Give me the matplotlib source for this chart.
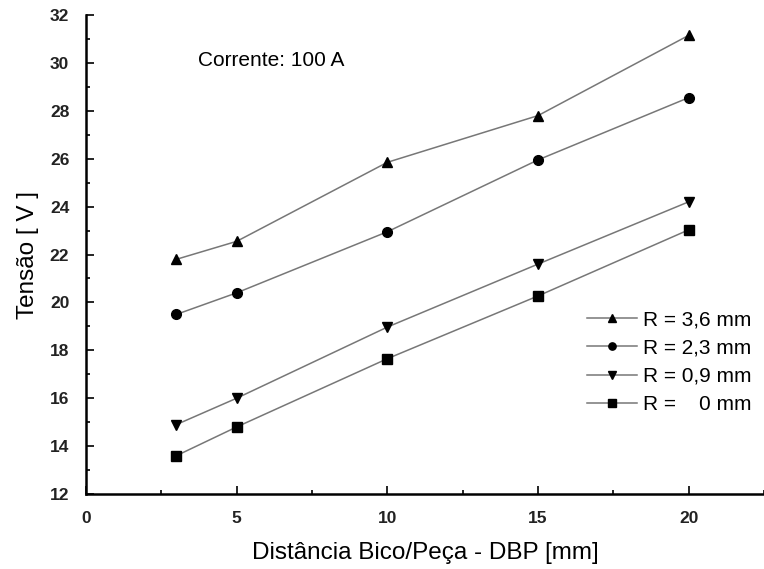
import numpy as np
import matplotlib.pyplot as plt
from matplotlib.ticker import MultipleLocator

plt.rcParams['font.family'] = ['Liberation Sans', 'DejaVu Sans']

dbp = [3, 5, 10, 15, 20]
r_36 = [21.8, 22.55, 25.85, 27.8, 31.15]
r_23 = [19.5, 20.4, 22.95, 25.95, 28.55]
r_09 = [14.9, 16.0, 18.97, 21.6, 24.2]
r_00 = [13.6, 14.8, 17.65, 20.27, 23.03]
labels = ["R = 3,6 mm", "R = 2,3 mm", "R = 0,9 mm", "R =    0 mm"]
markers = ['^', 'o', 'v', 's']

fig = plt.figure(figsize=(7.64, 5.69), dpi=100)
ax = fig.add_axes([0.1126, 0.1318, 0.8874, 0.8418])

for ys, m, lab in zip([r_36, r_23, r_09, r_00], markers, labels):
    ax.plot(dbp, ys, color='#777777', lw=1.1, marker=m, markersize=7,
            markerfacecolor='black', markeredgecolor='black', label=lab)

ax.set_xlim(0, 22.5)
ax.set_ylim(12, 32)
ax.xaxis.set_major_locator(MultipleLocator(5))
ax.xaxis.set_minor_locator(MultipleLocator(2.5))
ax.yaxis.set_major_locator(MultipleLocator(2))
ax.yaxis.set_minor_locator(MultipleLocator(1))
ax.tick_params(which='both', direction='in', width=1.2)
ax.tick_params(which='major', length=6, labelsize=12.5, pad=12)
ax.tick_params(which='minor', length=3)
for lbl in ax.get_xticklabels() + ax.get_yticklabels():
    lbl.set_fontweight('bold')
    lbl.set_color('#222222')
ax.spines['top'].set_visible(False)
ax.spines['right'].set_visible(False)
ax.spines['left'].set_linewidth(1.8)
ax.spines['bottom'].set_linewidth(1.8)

ax.set_xlabel("Distância Bico/Peça - DBP [mm]", fontsize=17.5, labelpad=12)
ax.set_ylabel("Tensão [ V ]", fontsize=17.5, labelpad=8)
ax.text(3.7, 30.1, "Corrente: 100 A", fontsize=15, va='center')

ax.legend(loc='center right', bbox_to_anchor=(1.0, 0.275), frameon=False,
          fontsize=15, handlelength=2.4, handletextpad=0.3, labelspacing=0.45,
          borderpad=0.1, markerscale=0.75)

fig.savefig("out.png", dpi=100)
